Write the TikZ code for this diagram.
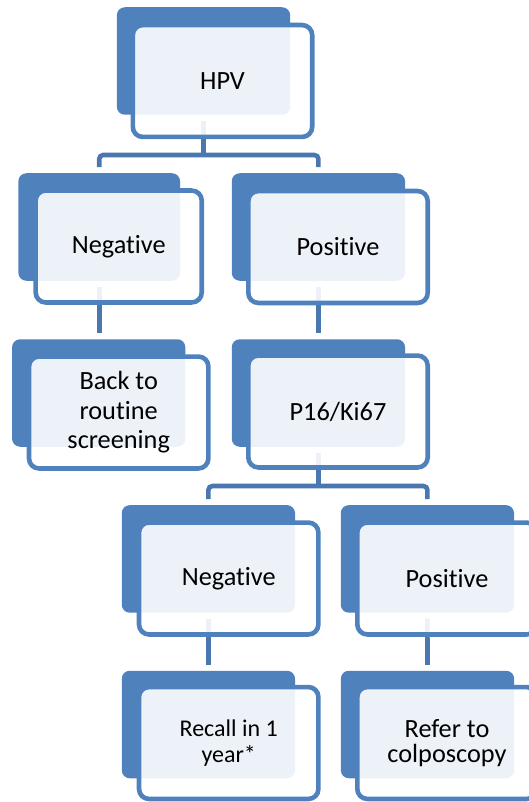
\documentclass[tikz,border=0pt]{standalone}
\usepackage{fontspec}
\setmainfont{Carlito}[Ligatures={NoCommon,NoContextual}]
\definecolor{boxblue}{RGB}{79,129,189}
\definecolor{connblue}{RGB}{74,119,175}
\tikzset{
  backbox/.style={fill=boxblue, draw=none, rounded corners=8pt, inner sep=0pt, outer sep=0pt,
    minimum width=173.3pt, minimum height=107.5pt},
  frontbox/.style={fill=white, fill opacity=0.9, text opacity=1, draw=boxblue, line width=4.6pt,
    rounded corners=10pt, inner sep=0pt, outer sep=0pt, align=center,
    minimum width=179.4pt, minimum height=111.9pt,
    font=\fontsize{26.3}{29.5}\selectfont},
  conn/.style={draw=connblue, line width=4.6pt, rounded corners=4pt}
}
\begin{document}
\begin{tikzpicture}[x=1pt,y=-1pt]
\useasboundingbox (0,0) rectangle (529,802);
\clip (0,0) rectangle (529,802);
\coordinate (bar1) at (0,155);
\coordinate (bar2) at (0,486);
% back shapes
\node[backbox] (hpvb) at (203.5,61) {};
\node[backbox, minimum width=161.7pt] (neg1b) at (99.2,227) {};
\node[backbox] (pos1b) at (318.4,227) {};
\node[backbox] (routb) at (98.7,393) {};
\node[backbox] (p16b) at (318.4,393) {};
\node[backbox] (neg2b) at (208.4,558.9) {};
\node[backbox] (pos2b) at (427.4,558.9) {};
\node[backbox] (recb) at (208.4,724.5) {};
\node[backbox] (refb) at (427.5,724.5) {};
% connectors
\draw[conn] ([yshift=-6pt]hpvb.south) -- (hpvb.south |- bar1);
\draw[conn] ([yshift=6pt]neg1b.north) |- (bar1 -| pos1b.north) -- ([yshift=6pt]pos1b.north);
\draw[conn] ([yshift=-6pt]neg1b.south) -- ([yshift=6pt]routb.north -| neg1b.south);
\draw[conn] ([yshift=-6pt]pos1b.south) -- ([yshift=6pt]p16b.north);
\draw[conn] ([yshift=-6pt]p16b.south) -- (p16b.south |- bar2);
\draw[conn] ([yshift=6pt]neg2b.north) |- (bar2 -| pos2b.north) -- ([yshift=6pt]pos2b.north);
\draw[conn] ([yshift=-6pt]neg2b.south) -- ([yshift=6pt]recb.north);
\draw[conn] ([yshift=-6pt]pos2b.south) -- ([yshift=6pt]refb.north);
% front shapes with text
\node[frontbox] (hpv) at (222.5,81) {HPV};
\node[frontbox, minimum width=166.1pt] (neg1) at (118.7,246.5) {Negative};
\node[frontbox] (pos1) at (338,247) {Positive};
\node[frontbox] (rout) at (118.7,412.5) {Back to\\routine\\screening};
\node[frontbox] (p16) at (338,411.5) {P16/Ki67};
\node[frontbox] (neg2) at (228.7,578.5) {Negative};
\node[frontbox] (pos2) at (447,578.5) {Positive};
\node[frontbox, font=\fontsize{24}{26}\selectfont] (rec) at (228.7,743) {Recall in 1\\year*};
\node[frontbox, font=\fontsize{26.3}{25.5}\selectfont] (ref) at (447,743) {Refer to\\colposcopy};
\end{tikzpicture}
\end{document}
